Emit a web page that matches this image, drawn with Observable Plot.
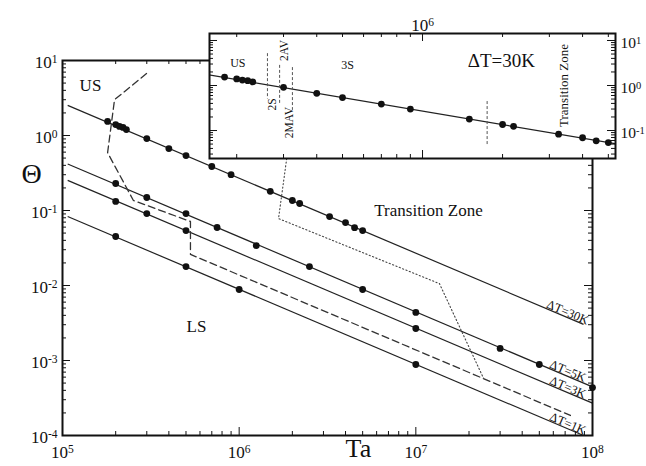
<!DOCTYPE html>
<html>
<head>
<meta charset="utf-8">
<script src="https://cdn.jsdelivr.net/npm/d3@7"></script>
<script src="https://cdn.jsdelivr.net/npm/@observablehq/plot@0.6"></script>
<style>
  html, body { margin: 0; padding: 0; background: #fff; }
  #chart { position: relative; width: 646px; height: 466px; overflow: hidden; }
  #chart svg { position: absolute; left: 0; top: 0; }
</style>
</head>
<body>
<div id="chart"></div>
<script>
// ---- Measured points, Θ versus Ta, one pair of arrays per ΔT ----
const ta30 = [1.8e5, 2.0e5, 2.1e5, 2.2e5, 2.3e5, 3e5, 4e5, 5e5, 7e5, 9e5, 1.5e6, 2e6, 2.2e6, 3.25e6, 4e6, 4.5e6, 5e6];
const theta30 = [1.54, 1.40, 1.32, 1.28, 1.20, 0.91, 0.67, 0.54, 0.386, 0.30, 0.18, 0.136, 0.124, 0.083, 0.069, 0.059, 0.054];

const ta5 = [2e5, 3e5, 5e5, 7.5e5, 1.25e6, 2.5e6, 5e6, 1e7, 3e7, 5e7, 1e8];
const theta5 = [0.229, 0.149, 0.091, 0.0593, 0.0341, 0.0179, 0.00885, 0.00437, 0.00145, 0.000885, 0.000436];

const ta3 = [2e5, 3e5, 5e5, 1e7];
const theta3 = [0.132, 0.091, 0.054, 0.00267];

const ta1 = [2e5, 5e5, 1e6, 1e7];
const theta1 = [0.045, 0.0179, 0.00885, 0.000885];

// ---- Fitted power-law lines (end points) and their labels ----
const fitNames = ["ΔT=30K", "ΔT=5K", "ΔT=3K", "ΔT=1K"];
const fitStartTa = [1.07e5, 1.07e5, 1.07e5, 1.07e5];
const fitStartTheta = [2.52, 0.416, 0.252, 0.083];
const fitEndTa = [8.9e7, 1e8, 1e8, 8.9e7];
const fitEndTheta = [3.03e-3, 4.45e-4, 2.7e-4, 1e-4];
const fitLabelTa = [7.1e7, 7.1e7, 7.1e7, 7.1e7];
const fitLabelTheta = [3.8e-3, 6.27e-4, 3.8e-4, 1.25e-4];

// ---- Regime boundaries ----
const boundaryTa = [2.99e5, 1.97e5, 1.80e5, 2.52e5, 5.3e5, 5.3e5, 7.5e7];
const boundaryTheta = [6.7, 3.0, 0.59, 0.136, 0.0714, 0.026, 1.85e-4];
const transitionTa = [1.87e6, 1.67e6, 1.36e7, 2.42e7];
const transitionTheta = [0.55, 0.078, 0.0106, 5.75e-4];

// ---- Region names ----
const regionNames = ["US", "LS", "Transition Zone"];
const regionTa = [1.44e5, 5.73e5, 1.18e7];
const regionTheta = [4.6, 2.84e-3, 0.1];

// ---- Axis ticks ----
const xMajor = [1e5, 1e6, 1e7, 1e8];
const yMajor = [1e-4, 1e-3, 1e-2, 1e-1, 1, 10];
const insetXMajor = [1e6];
const insetYMajor = [0.1, 1, 10];

// ---- Inset (ΔT=30K) annotations ----
const insetCutTa = [2.61e5, 2.9e5, 3.24e5, 1.75e6];
const insetCutTop = [5.1, 2.8, 2.5, 0.44];
const insetCutBottom = [0.5, 0.4, 0.28, 0.046];
const insetStateNames = ["2S", "2AV", "2MAV"];
const insetStateTa = [2.73e5, 3.03e5, 3.16e5];
const insetStateTheta = [0.378, 6.0, 0.15];
const insetRegionNames = ["US", "3S"];
const insetRegionTa = [2.02e5, 5.23e5];
const insetRegionTheta = [3.08, 2.78];

// ---- Tables built from the arrays ----
const zip = (xs, ys) => xs.map((x, i) => ({ta: x, theta: ys[i]}));
const pts30 = zip(ta30, theta30);
const pts5 = zip(ta5, theta5);
const pts3 = zip(ta3, theta3);
const pts1 = zip(ta1, theta1);
const fits = fitNames.map((name, i) => ({
  name, x1: fitStartTa[i], y1: fitStartTheta[i], x2: fitEndTa[i], y2: fitEndTheta[i],
  lx: fitLabelTa[i], ly: fitLabelTheta[i]
}));
const boundary = zip(boundaryTa, boundaryTheta);
const transition = zip(transitionTa, transitionTheta);
const regions = regionNames.map((name, i) => ({name, ta: regionTa[i], theta: regionTheta[i]}));
const cuts = insetCutTa.map((t, i) => ({ta: t, top: insetCutTop[i], bottom: insetCutBottom[i]}));
const states = insetStateNames.map((name, i) => ({name, ta: insetStateTa[i], theta: insetStateTheta[i]}));
const insetRegions = insetRegionNames.map((name, i) => ({name, ta: insetRegionTa[i], theta: insetRegionTheta[i]}));

const minorOf = (majors) => majors.slice(0, -1).flatMap(m => d3.range(2, 10).map(k => k * m));
const fmtExp = d => "10^" + Math.round(Math.log10(d));
const SERIF = "'Liberation Serif', 'Times New Roman', serif";

// Inward ticks on all four sides of a frame
function inwardTicks(xMaj, xMin, yMaj, yMin, plotW, plotH, majLen, minLen) {
  const s = {stroke: "#111", strokeWidth: 1};
  return [
    Plot.tickX(xMin, {x: d => d, insetTop: plotH - minLen, ...s}),
    Plot.tickX(xMin, {x: d => d, insetBottom: plotH - minLen, ...s}),
    Plot.tickX(xMaj, {x: d => d, insetTop: plotH - majLen, ...s}),
    Plot.tickX(xMaj, {x: d => d, insetBottom: plotH - majLen, ...s}),
    Plot.tickY(yMin, {y: d => d, insetRight: plotW - minLen, ...s}),
    Plot.tickY(yMin, {y: d => d, insetLeft: plotW - minLen, ...s}),
    Plot.tickY(yMaj, {y: d => d, insetRight: plotW - majLen, ...s}),
    Plot.tickY(yMaj, {y: d => d, insetLeft: plotW - majLen, ...s})
  ];
}

// ---- Main chart ----
const M = {left: 62, right: 54, top: 60, bottom: 31};
const W = 646, H = 466;
const mainW = W - M.left - M.right, mainH = H - M.top - M.bottom;

const main = Plot.plot({
  width: W, height: H,
  marginLeft: M.left, marginRight: M.right, marginTop: M.top, marginBottom: M.bottom,
  x: {type: "log", domain: [1e5, 1e8], axis: null},
  y: {type: "log", domain: [1e-4, 10], axis: null},
  style: {fontFamily: SERIF, fontSize: "17px", color: "#111", background: "white"},
  marks: [
    Plot.link(fits, {x1: "x1", y1: "y1", x2: "x2", y2: "y2", stroke: "#222", strokeWidth: 1.2}),
    Plot.line(boundary, {x: "ta", y: "theta", stroke: "#333", strokeWidth: 1.3, strokeDasharray: "7,4"}),
    Plot.line(transition, {x: "ta", y: "theta", stroke: "#444", strokeWidth: 1.1, strokeDasharray: "1.2,2.4"}),
    Plot.dot(pts30, {x: "ta", y: "theta", r: 3.4, fill: "#111"}),
    Plot.dot(pts5, {x: "ta", y: "theta", r: 3.4, fill: "#111"}),
    Plot.dot(pts3, {x: "ta", y: "theta", r: 3.4, fill: "#111"}),
    Plot.dot(pts1, {x: "ta", y: "theta", r: 3.4, fill: "#111"}),
    ...inwardTicks(xMajor, minorOf(xMajor), yMajor, minorOf(yMajor), mainW, mainH, 8, 4),
    Plot.frame({stroke: "#111", strokeWidth: 2}),
    Plot.text(fits, {x: "lx", y: "ly", text: "name", rotate: 23, lineAnchor: "bottom", dy: -1, fontSize: 12.5}),
    Plot.text(regions, {x: "ta", y: "theta", text: "name", fontSize: 17}),
    Plot.text(xMajor, {x: d => d, frameAnchor: "bottom", dy: 22, text: fmtExp, fontSize: 17}),
    Plot.text(yMajor, {y: d => d, frameAnchor: "left", textAnchor: "end", dx: -5, dy: 2, text: fmtExp, fontSize: 17}),
    Plot.text([{t: "Θ", y: 0.311}], {y: "y", text: "t", frameAnchor: "left", dx: -41, fontSize: 28}),
    Plot.text([{t: "Ta", x: 4.73e6}], {x: "x", text: "t", frameAnchor: "bottom", dy: 21, fontSize: 26})
  ]
});

// ---- Inset: ΔT=30K on a stretched Ta axis ----
const I = {left: 209, right: 31, top: 33, bottom: 308};
const insetW = W - I.left - I.right, insetH = H - I.top - I.bottom;
const insetXDomain = [1.58e5, 5.32e6];
const insetYDomain = [0.0239, 14.3];
const inRange = (v, dom) => v >= dom[0] && v <= dom[1];

const inset = Plot.plot({
  width: W, height: H,
  marginLeft: I.left, marginRight: I.right, marginTop: I.top, marginBottom: I.bottom,
  x: {type: "log", domain: insetXDomain, axis: null},
  y: {type: "log", domain: insetYDomain, axis: null},
  style: {fontFamily: SERIF, fontSize: "17px", color: "#111", background: "transparent"},
  marks: [
    Plot.frame({fill: "white", stroke: "none"}),
    Plot.link(fits.slice(0, 1), {x1: "x1", y1: "y1", x2: "x2", y2: "y2", stroke: "#222", strokeWidth: 1.2, clip: true}),
    Plot.ruleX(cuts, {x: "ta", y1: "top", y2: "bottom", stroke: "#555", strokeWidth: 1, strokeDasharray: "3,2"}),
    Plot.dot(pts30, {x: "ta", y: "theta", r: 3.4, fill: "#111"}),
    ...inwardTicks(
      insetXMajor, minorOf([1e5, 1e6, 1e7]).filter(v => inRange(v, insetXDomain)),
      insetYMajor, minorOf([0.01, 0.1, 1, 10]).filter(v => inRange(v, insetYDomain)),
      insetW, insetH, 8, 4),
    Plot.frame({stroke: "#111", strokeWidth: 2}),
    Plot.text(insetRegions, {x: "ta", y: "theta", text: "name", fontSize: 12}),
    Plot.text(states, {x: "ta", y: "theta", text: "name", rotate: -90, fontSize: 11.5}),
    Plot.text([{t: "ΔT=30K", x: 1.98e6, y: 3.6}], {x: "x", y: "y", text: "t", fontSize: 19}),
    Plot.text([{t: "Transition Zone", x: 3.39e6, y: 1.0}], {x: "x", y: "y", text: "t", rotate: -90, fontSize: 13}),
    Plot.text(insetXMajor, {x: d => d, frameAnchor: "top", dy: -15, text: fmtExp, fontSize: 17}),
    Plot.text(insetYMajor, {y: d => d, frameAnchor: "right", textAnchor: "start", dx: 5, dy: 3, text: fmtExp, fontSize: 15.5})
  ]
});

// Turn "10^n" labels into a base with a raised exponent
function superscripts(svg) {
  svg.querySelectorAll("text").forEach(t => {
    const m = t.textContent.match(/^10\^(-?\d+)$/);
    if (!m) return;
    t.textContent = "10";
    const sup = document.createElementNS("http://www.w3.org/2000/svg", "tspan");
    sup.setAttribute("dy", "-0.42em");
    sup.setAttribute("font-size", "0.68em");
    sup.textContent = m[1];
    t.appendChild(sup);
  });
}
superscripts(main);
superscripts(inset);

const chart = document.getElementById("chart");
chart.appendChild(main);
chart.appendChild(inset);
</script>
</body>
</html>
